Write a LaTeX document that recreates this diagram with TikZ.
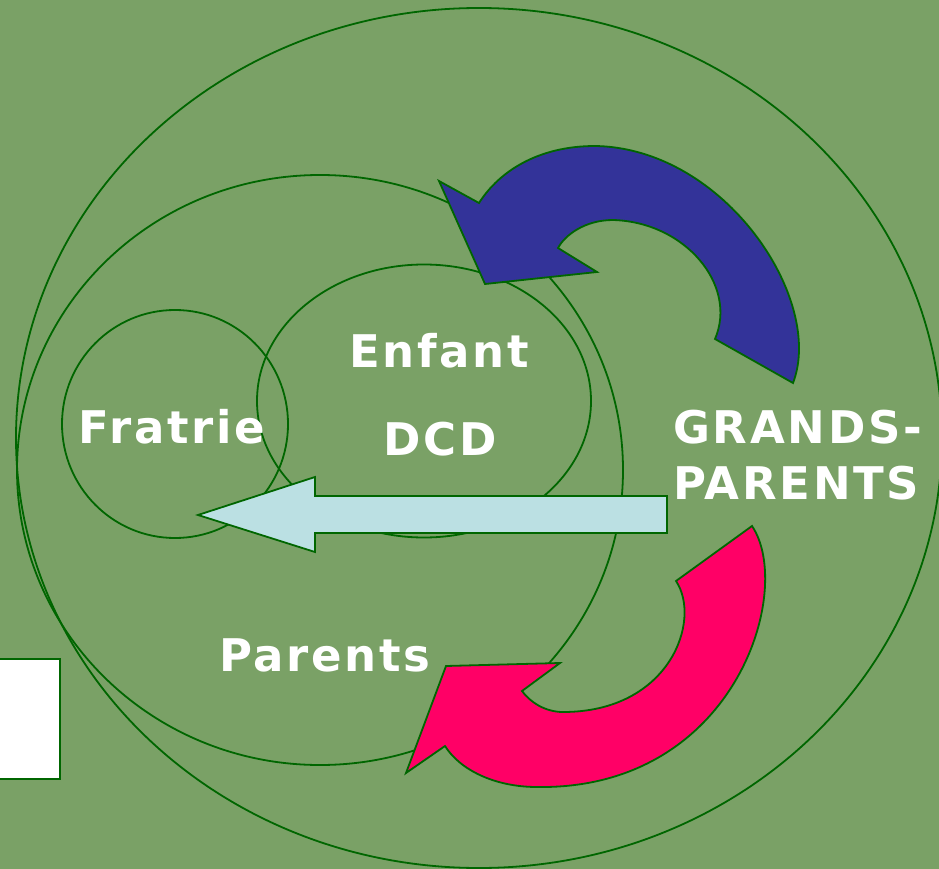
\documentclass[tikz,border=0pt]{standalone}
\usepackage{fontspec}
\setmainfont{DejaVu Sans}
\newfontfamily\wfont[LetterSpace=6]{DejaVu Sans}
\usetikzlibrary{shapes.geometric}
\definecolor{bggreen}{HTML}{7AA166}
\definecolor{linegreen}{HTML}{006600}
\definecolor{arrblue}{HTML}{333399}
\definecolor{arrpink}{HTML}{FF0066}
\definecolor{arrcyan}{HTML}{BBE0E3}

\begin{document}
\begin{tikzpicture}[x=1pt,y=-1pt,
  ring/.style={ellipse,draw=linegreen,line width=1.8pt,inner sep=0pt},
  bigarrow/.style={draw=linegreen,line width=1.8pt,line join=miter},
  wtext/.style={text=white,inner sep=0pt,
    font=\wfont\bfseries\fontsize{45}{56}\selectfont}]
  \fill[bggreen] (0,0) rectangle (939,869);
  \useasboundingbox (0,0) rectangle (939,869);
  \node[ring,minimum width=926,minimum height=860] (grandsring) at (479,438) {};
  \node[ring,minimum width=606,minimum height=590] (parentsring) at (320,470) {};
  \node[ring,minimum width=334,minimum height=273] (enfantring) at (424,401) {};
  \node[ring,minimum width=226,minimum height=228] (fratriering) at (175,424) {};
  \node[draw=linegreen,fill=white,line width=1.8pt,inner sep=0pt,
    minimum width=70,minimum height=120,anchor=north east] (blank) at (61,658) {};
  \draw[bigarrow,fill=arrcyan] (667,496) -- (315,496) -- (315,477) -- (198,515)
    -- (315,552) -- (315,533) -- (667,533) -- cycle;
  \draw[bigarrow,fill=arrblue] (793,383) .. controls (825,300) and (725,148) .. (595,146)
    .. controls (540,146) and (500,170) .. (479,203) -- (439,181) -- (485,284)
    -- (597,272) -- (558,248) .. controls (565,235) and (585,220) .. (613,220)
    .. controls (685,222) and (738,285) .. (715,339) -- cycle;
  \draw[bigarrow,fill=arrpink] (752,526) .. controls (795,590) and (735,790) .. (537,787)
    .. controls (495,787) and (460,770) .. (445,746) -- (406,773) -- (446,666)
    -- (560,663) -- (522,691) .. controls (530,702) and (545,712) .. (563,712)
    .. controls (670,712) and (702,620) .. (676,581) -- cycle;
  \node[wtext,anchor=base] (enfant) at (439,367) {Enfant};
  \node[wtext,anchor=base] (dcd) at (440,455) {DCD};
  \node[wtext,anchor=base] (fratrie) at (172,443) {Fratrie};
  \node[wtext,anchor=base] (parents) at (325,671) {Parents};
  \node[wtext,anchor=base west,align=left] (grands) at (673,499) {GRANDS-\\PARENTS};
\end{tikzpicture}
\end{document}
